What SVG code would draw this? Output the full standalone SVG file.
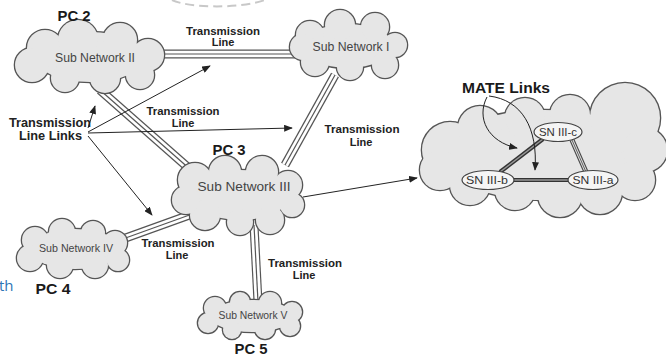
<svg xmlns="http://www.w3.org/2000/svg" xmlns:xlink="http://www.w3.org/1999/xlink" width="666" height="359" viewBox="0 0 666 359">
<style>
.cs{fill:#e6e6e6;stroke:#555;stroke-width:2.6}
.cf{fill:#e6e6e6;stroke:none}
.t{font-family:"Liberation Sans",Arial,sans-serif;text-anchor:middle}
.sub{font-size:12px;fill:#444}
.lbl{font-size:11px;font-weight:bold;fill:#222}
.pc{font-size:14px;font-weight:bold;fill:#1a1a1a}
.tlo{stroke:#555;stroke-width:9;fill:none}
.tli{stroke:#fff;stroke-width:6.6;fill:none}
.tlm{stroke:#555;stroke-width:1.2;fill:none}
.arr{stroke:#222;stroke-width:1;fill:none;marker-end:url(#ah)}
.sn{fill:#f5f5f5;stroke:#444;stroke-width:1.2}
</style>
<defs>
<marker id="ah" viewBox="0 0 10 8" refX="9" refY="4" markerWidth="9" markerHeight="7" markerUnits="userSpaceOnUse" orient="auto"><path d="M0,0 L10,4 L0,8 z" fill="#222"/></marker>
<g id="c2"><ellipse cx="90" cy="57" rx="55" ry="25"/><circle cx="45" cy="48" r="18"/><circle cx="78" cy="40" r="20"/><circle cx="120" cy="40" r="17"/><circle cx="148" cy="55" r="16"/><circle cx="140" cy="75" r="14"/><circle cx="105" cy="78" r="15"/><circle cx="65" cy="78" r="14"/><circle cx="32" cy="65" r="17"/></g>
<g id="c1"><ellipse cx="348" cy="46" rx="45" ry="22"/><circle cx="310" cy="35" r="14"/><circle cx="340" cy="25" r="15"/><circle cx="375" cy="27" r="14"/><circle cx="395" cy="45" r="12"/><circle cx="385" cy="65" r="13"/><circle cx="350" cy="67" r="13"/><circle cx="315" cy="62" r="14"/><circle cx="303" cy="47" r="13"/></g>
<g id="c3"><ellipse cx="240" cy="195" rx="50" ry="25"/><circle cx="195" cy="180" r="17"/><circle cx="225" cy="172" r="16"/><circle cx="262" cy="172" r="16"/><circle cx="288" cy="185" r="14"/><circle cx="292" cy="205" r="12"/><circle cx="270" cy="220" r="14"/><circle cx="240" cy="222" r="13"/><circle cx="205" cy="215" r="15"/><circle cx="186" cy="200" r="14"/></g>
<g id="c4"><ellipse cx="75" cy="249" rx="45" ry="20"/><circle cx="35" cy="240" r="13"/><circle cx="62" cy="232" r="13"/><circle cx="93" cy="233" r="12"/><circle cx="115" cy="243" r="12"/><circle cx="118" cy="260" r="11"/><circle cx="95" cy="265" r="13"/><circle cx="60" cy="265" r="13"/><circle cx="30" cy="258" r="13"/></g>
<g id="c5"><ellipse cx="252" cy="316" rx="42" ry="16"/><circle cx="215" cy="308" r="11"/><circle cx="240" cy="302" r="10"/><circle cx="270" cy="303" r="11"/><circle cx="292" cy="312" r="10"/><circle cx="290" cy="326" r="10"/><circle cx="265" cy="329" r="10"/><circle cx="232" cy="330" r="9"/><circle cx="208" cy="323" r="10"/></g>
<g id="c6"><ellipse cx="545" cy="155" rx="105" ry="45"/><circle cx="450" cy="150" r="28"/><circle cx="480" cy="128" r="22"/><circle cx="525" cy="118" r="20"/><circle cx="570" cy="115" r="20"/><circle cx="625" cy="118" r="35"/><circle cx="645" cy="150" r="22"/><circle cx="635" cy="180" r="20"/><circle cx="600" cy="192" r="22"/><circle cx="560" cy="195" r="22"/><circle cx="515" cy="190" r="20"/><circle cx="470" cy="185" r="20"/><circle cx="440" cy="170" r="20"/></g>
</defs>
<rect width="666" height="359" fill="#fff"/>
<path d="M172,0 C188,8 240,9 265,0" fill="none" stroke="#c8c8c8" stroke-width="2" stroke-dasharray="9,5"/>
<text x="-1" y="291" font-family="'Open Sans','Liberation Sans',sans-serif" font-size="15" fill="#2e75b6">th</text>
<g id="connectors">
<g id="tl-2-1"><path class="tlo" d="M155,54 L300,54"/><path class="tli" d="M155,54 L300,54"/><path class="tlm" d="M155,54 L300,54"/></g>
<g id="tl-2-3"><path class="tlo" d="M100,90 L200,178"/><path class="tli" d="M100,90 L200,178"/><path class="tlm" d="M100,90 L200,178"/></g>
<g id="tl-1-3"><path class="tlo" d="M335,75 L285,165"/><path class="tli" d="M335,75 L285,165"/><path class="tlm" d="M335,75 L285,165"/></g>
<g id="tl-3-4"><path class="tlo" d="M195,213 L120,240"/><path class="tli" d="M195,213 L120,240"/><path class="tlm" d="M195,213 L120,240"/></g>
<g id="tl-3-5"><path class="tlo" d="M254,225 L258,302"/><path class="tli" d="M254,225 L258,302"/><path class="tlm" d="M254,225 L258,302"/></g>
<path class="arr" d="M88,132 L210,66"/>
<path class="arr" d="M88,128 L95,106"/>
<path class="arr" d="M88,133 L292,128"/>
<path class="arr" d="M88,136 L152,215"/>
<path class="arr" d="M303,197 L417,178"/>
</g>
<g id="pc2"><use href="#c2" class="cs"/><use href="#c2" class="cf"/><text class="t sub" x="95" y="62" textLength="80" lengthAdjust="spacingAndGlyphs">Sub Network II</text><text class="t pc" x="74" y="21" textLength="33" lengthAdjust="spacingAndGlyphs">PC 2</text></g>
<g id="pc1"><use href="#c1" class="cs"/><use href="#c1" class="cf"/><text class="t sub" x="351" y="51" textLength="77" lengthAdjust="spacingAndGlyphs">Sub Network I</text></g>
<g id="pc3"><use href="#c3" class="cs"/><use href="#c3" class="cf"/><text class="t sub" x="244" y="191" textLength="93" lengthAdjust="spacingAndGlyphs">Sub Network III</text><text class="t pc" x="229" y="155" textLength="33" lengthAdjust="spacingAndGlyphs">PC 3</text></g>
<g id="pc4"><use href="#c4" class="cs"/><use href="#c4" class="cf"/><text class="t sub" style="font-size:10.5px" x="76" y="252" textLength="74" lengthAdjust="spacingAndGlyphs">Sub Network IV</text><text class="t pc" x="53" y="294" textLength="35" lengthAdjust="spacingAndGlyphs">PC 4</text></g>
<g id="pc5"><use href="#c5" class="cs"/><use href="#c5" class="cf"/><text class="t sub" style="font-size:10.5px" x="253" y="319" textLength="69" lengthAdjust="spacingAndGlyphs">Sub Network V</text><text class="t pc" x="251" y="354" textLength="33" lengthAdjust="spacingAndGlyphs">PC 5</text></g>
<g id="sn3-detail"><use href="#c6" class="cs"/><use href="#c6" class="cf"/></g>
<g id="mate-links">
<path d="M500,172 L543,139" stroke="#333" stroke-width="4.2" fill="none"/><path d="M500,172 L543,139" stroke="#999" stroke-width="1.4" fill="none"/>
<path d="M572,140 L586,172" stroke="#444" stroke-width="5" fill="none"/><path d="M572,140 L586,172" stroke="#ddd" stroke-width="3" fill="none"/><path d="M572,140 L586,172" stroke="#444" stroke-width="0.8" fill="none"/>
<path d="M512,180 L570,180" stroke="#333" stroke-width="4.2" fill="none"/><path d="M512,180 L570,180" stroke="#999" stroke-width="1.4" fill="none"/>
<path class="arr" d="M487,97 C476,118 488,142 517,148"/>
<path class="arr" d="M489,96 C522,100 538,128 535,170"/>
</g>
<g id="sn3c"><ellipse class="sn" cx="558" cy="132" rx="24" ry="9.5"/><text class="t sub" style="font-size:11.5px;fill:#333" x="558" y="136" textLength="38" lengthAdjust="spacingAndGlyphs">SN III-c</text></g>
<g id="sn3b"><ellipse class="sn" cx="488" cy="180" rx="26" ry="9.5"/><text class="t sub" style="font-size:11.5px;fill:#333" x="487" y="184" textLength="42" lengthAdjust="spacingAndGlyphs">SN III-b</text></g>
<g id="sn3a"><ellipse class="sn" cx="593" cy="180" rx="25" ry="9.5"/><text class="t sub" style="font-size:11.5px;fill:#333" x="593" y="184" textLength="41" lengthAdjust="spacingAndGlyphs">SN III-a</text></g>
<g id="labels">
<text class="t lbl" x="223" y="35" textLength="74" lengthAdjust="spacingAndGlyphs">Transmission</text><text class="t lbl" x="223" y="46">Line</text>
<text class="t lbl" style="font-size:12px" x="50" y="127" textLength="82" lengthAdjust="spacingAndGlyphs">Transmission</text><text class="t lbl" style="font-size:12px" x="50.5" y="140" textLength="63" lengthAdjust="spacingAndGlyphs">Line Links</text>
<text class="t lbl" x="183" y="115" textLength="73" lengthAdjust="spacingAndGlyphs">Transmission</text><text class="t lbl" x="183" y="127">Line</text>
<text class="t lbl" x="362" y="133" textLength="75" lengthAdjust="spacingAndGlyphs">Transmission</text><text class="t lbl" x="361" y="146">Line</text>
<text class="t lbl" x="178" y="247" textLength="73" lengthAdjust="spacingAndGlyphs">Transmission</text><text class="t lbl" x="177" y="259">Line</text>
<text class="t lbl" x="305" y="267" textLength="74" lengthAdjust="spacingAndGlyphs">Transmission</text><text class="t lbl" x="304" y="279">Line</text>
<text class="t pc" x="506" y="93" textLength="88" lengthAdjust="spacingAndGlyphs">MATE Links</text>
</g>
</svg>
